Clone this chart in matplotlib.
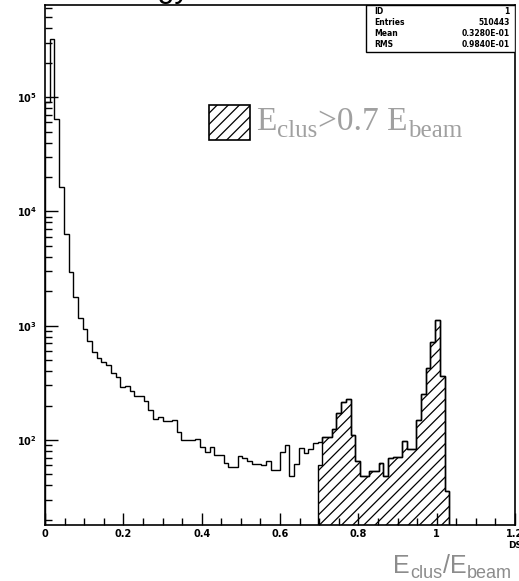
import numpy as np
import matplotlib
matplotlib.use('Agg')
import matplotlib.pyplot as plt
from matplotlib.patches import Rectangle
from matplotlib.ticker import MultipleLocator, LogLocator, NullFormatter

plt.rcParams['hatch.linewidth'] = 0.9
plt.rcParams['font.weight'] = 'bold'
plt.rcParams['mathtext.default'] = 'bf'

# histogram: 100 bins of 0.012 from 0 to 1.2, only the non-empty part is kept
bin_width = 0.012
counts = [
    9.1e4, 3.2e5, 6.4e4, 1.64e4, 6.3e3, 2.93e3, 1.79e3, 1.17e3, 930, 735,
    585, 520, 480, 453, 382, 356, 288, 296, 270, 240,
    240, 221, 183, 152, 158, 145, 145, 148, 118, 99,
    99, 99, 101, 87, 79, 87, 74, 74, 63, 58,
    58, 73, 69, 65, 62, 62, 60, 65, 55, 55,
    78, 90, 48, 62, 85, 77, 83, 94, 95, 107,
    107, 124, 171, 216, 228, 111, 65, 48, 48, 53,
    53, 63, 48, 69, 71, 71, 97, 83, 83, 150,
    250, 424, 715, 1120, 363, 36,
]
# clusters with E_clus > 0.7 E_beam (first bin only partly above the cut)
cut_first_bin = 58
cut_counts = [60] + counts[cut_first_bin + 1:]

x_ticks = [0, 0.2, 0.4, 0.6, 0.8, 1.0, 1.2]
x_ticklabels = ['0', '0.2', '0.4', '0.6', '0.8', '1', '1.2']

stats_labels = ['ID', 'Entries', 'Mean', 'RMS']
stats_values = ['1', '510443', '0.3280E-01', '0.9840E-01']

edges = np.arange(len(counts) + 1) * bin_width
cut_edges = edges[cut_first_bin:]

fig = plt.figure(figsize=(5.19, 5.81), dpi=100)
ax = fig.add_axes([45 / 519, 56 / 581, 470 / 519, 520 / 581])

ax.stairs(counts, edges, baseline=1, color='black', linewidth=1.0)
ax.stairs(cut_counts, cut_edges, baseline=1, fill=True, facecolor='none',
          edgecolor='black', hatch='///', linewidth=1.0)

ax.set_yscale('log')
ax.set_xlim(0, 1.2)
ax.set_ylim(18, 6.4e5)

ax.set_xticks(x_ticks, x_ticklabels)
ax.xaxis.set_minor_locator(MultipleLocator(0.05))
ax.yaxis.set_major_locator(LogLocator(base=10, numticks=10))
ax.yaxis.set_minor_locator(LogLocator(base=10, subs=np.arange(2, 10), numticks=20))
ax.yaxis.set_minor_formatter(NullFormatter())

ax.tick_params(which='both', direction='in', top=False, right=False,
               width=1.0, labelsize=7)
ax.tick_params(which='major', length=9)
ax.tick_params(which='minor', length=5)
ax.tick_params(axis='x', pad=3)
ax.tick_params(axis='y', pad=6)
for sp in ax.spines.values():
    sp.set_linewidth(1.2)

# statistics box
ax.add_patch(Rectangle((0.683, 0.910), 0.317, 0.090, transform=ax.transAxes,
                       facecolor='white', edgecolor='black', linewidth=1.0,
                       zorder=5))
for i, (lab, val) in enumerate(zip(stats_labels, stats_values)):
    yy = 0.987 - i * 0.0208
    ax.text(0.700, yy, lab, transform=ax.transAxes, fontsize=5.5,
            va='center', ha='left', zorder=6)
    ax.text(0.989, yy, val, transform=ax.transAxes, fontsize=5.5,
            va='center', ha='right', zorder=6)

renderer = fig.canvas.get_renderer()


def put_pieces(x0, y0, pieces, family, color):
    # lay out text pieces one after another, (text, size, baseline shift px)
    x = x0
    for s, size, dy in pieces:
        t = fig.text(x / 519, (581 - y0 - dy) / 581, s, fontsize=size,
                     family=family, color=color, ha='left', va='baseline',
                     fontweight='normal')
        x = t.get_window_extent(renderer).x1 + 0.5


# legend entry for the hatched histogram
ax.add_patch(Rectangle((0.349, 0.740), 0.087, 0.067, transform=ax.transAxes,
                       facecolor='white', edgecolor='black', hatch='///',
                       linewidth=1.2, zorder=5))
put_pieces(256, 130, [('E', 24, 0), ('clus', 18, 7), ('>0.7 E', 24, 0),
                      ('beam', 18, 7)],
           'Liberation Serif', '#a0a0a0')

# axis title
put_pieces(393, 573, [('E', 18, 0), ('clus', 13, 5), ('/E', 18, 0),
                      ('beam', 13, 5)],
           'Liberation Sans', '#8c8c8c')

fig.text(508 / 519, 35 / 581, 'DS', fontsize=6.5, ha='left', va='center')
fig.text(190 / 519, 1 + 3 / 581, 'Energy', fontsize=22, ha='right',
         va='baseline', family='Liberation Sans', fontweight='normal')

fig.savefig('out.png', dpi=100)
